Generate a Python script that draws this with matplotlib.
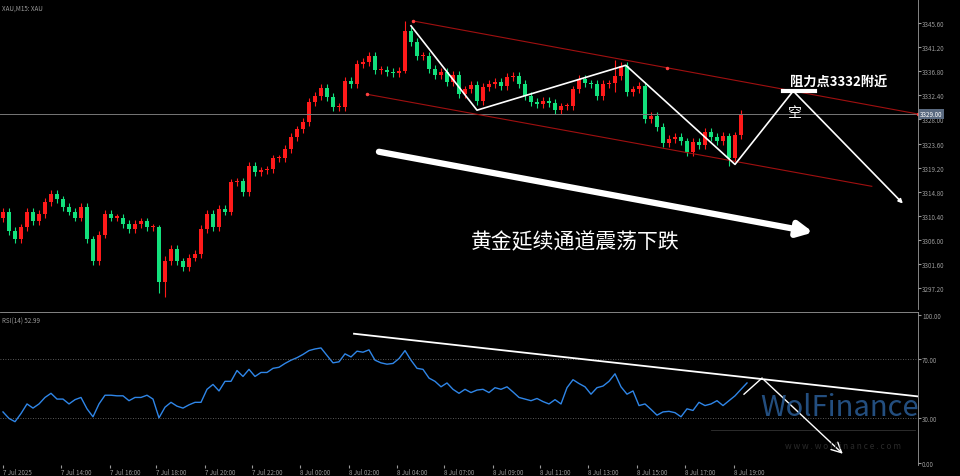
import matplotlib
matplotlib.use('Agg')
import matplotlib.pyplot as plt

plt.rcParams['font.family'] = ['Noto Sans CJK SC', 'DejaVu Sans']

# M15 closes (open = previous close)
first_open = 3310.0
closes = [
    3311.2, 3307.6, 3306.1, 3308.3, 3311.2, 3309.4, 3310.7, 3312.9, 3314.4, 3313.4,
    3312.0, 3311.2, 3310.1, 3312.0, 3306.1, 3302.1, 3307.0, 3310.7, 3310.1, 3310.1,
    3308.9, 3308.0, 3308.9, 3309.4, 3308.3, 3308.3, 3298.4, 3302.1, 3304.3, 3302.1,
    3301.0, 3302.8, 3303.4, 3308.0, 3310.7, 3308.3, 3311.6, 3311.2,
    3316.5, 3316.7, 3314.7, 3319.5, 3318.4, 3318.7, 3318.9, 3320.9, 3320.9, 3322.6,
    3324.8, 3326.2, 3327.5, 3331.2, 3332.3, 3333.7, 3332.1, 3330.3, 3330.3, 3335.0,
    3334.5, 3338.1, 3338.5, 3339.6, 3337.0, 3337.0, 3336.7, 3336.5, 3336.8, 3344.1,
    3342.1, 3339.6, 3339.6, 3337.2, 3336.1, 3336.7, 3334.8, 3336.1, 3332.6, 3333.5,
    3334.3, 3331.4,
    3333.9, 3334.5, 3334.8, 3334.1, 3335.7, 3335.9, 3334.5, 3332.3, 3331.2, 3330.8,
    3331.4, 3331.0, 3329.7, 3330.4, 3330.4, 3333.5, 3335.4, 3334.6, 3334.5, 3332.3,
    3334.5, 3334.6, 3335.9, 3337.8, 3333.0, 3333.5, 3334.1, 3328.1, 3328.6, 3326.6,
    3323.7, 3324.4, 3324.8, 3324.0, 3322.0, 3323.9, 3323.3, 3325.7, 3324.8, 3324.0,
    3325.0, 3320.9, 3325.1, 3329.0,
]
# notable wick extremes (bar index -> (high, low))
big_wicks = {26: (3308.8, 3296.4), 67: (3346.0, 3336.5), 102: (3338.9, 3333.0),
             121: (3325.5, 3319.6), 27: (3303.0, 3295.6)}

rsi = [
    34.4, 30.0, 27.8, 33.3, 39.8, 37.0, 39.8, 44.2, 47.0, 43.1, 43.1, 39.8, 42.7, 44.2,
    36.5, 31.1, 39.8, 45.7, 45.7, 45.3, 45.3, 42.0, 44.2, 44.2, 45.7, 43.1, 30.4, 37.6,
    40.9, 38.3, 37.0, 39.2, 40.9, 40.9, 49.7, 53.0, 48.6, 55.1, 55.1, 62.4, 58.4, 63.2,
    58.4, 61.1, 61.1, 63.9, 64.6, 67.2, 69.4, 71.1, 73.3, 75.9, 77.0, 77.7, 72.6, 67.6,
    68.3, 73.7, 71.6, 75.5, 74.8, 76.4, 69.4, 67.6, 66.7, 67.2, 70.5, 75.9, 69.4, 63.9,
    63.2, 57.3, 55.1, 51.4, 54.0, 49.7, 47.0, 49.7, 47.5, 49.2, 49.7, 47.5, 50.8, 49.7,
    51.4, 47.9, 44.2, 43.1, 42.0, 43.5, 41.4, 39.8, 42.7, 39.8, 50.8, 56.2, 53.6, 51.4,
    46.4, 50.8, 51.9, 55.1, 60.2, 51.4, 46.4, 48.6, 38.7, 39.8, 36.1, 32.2, 34.4, 34.8,
    33.9, 31.1, 36.5, 35.4, 40.9, 38.7, 39.8, 42.0, 38.7, 42.0, 45.3, 49.7, 54.0,
]

price_ticks = [3345.60, 3341.20, 3336.80, 3332.40, 3328.00, 3323.60, 3319.20,
               3314.80, 3310.40, 3306.00, 3301.60, 3297.20]
time_pos = [0, 9.7, 17.8, 25.5, 33.7, 41.5, 49.5, 57.7, 65.7, 73.5, 81.7, 89.5,
            97.5, 105.6, 113.7, 121.8]
time_labels = ['7 Jul 2025', '7 Jul 14:00', '7 Jul 16:00', '7 Jul 18:00', '7 Jul 20:00',
               '7 Jul 22:00', '8 Jul 00:00', '8 Jul 02:00', '8 Jul 04:00', '8 Jul 07:00',
               '8 Jul 09:00', '8 Jul 11:00', '8 Jul 13:00', '8 Jul 15:00', '8 Jul 17:00',
               '8 Jul 19:00']
last_price = 3329.0

BG = 'black'
GREY = '#9a9a9a'
UP = '#ff1a1a'
DOWN = '#12e07c'

fig = plt.figure(figsize=(9.6, 4.77), dpi=100, facecolor=BG)
ax = fig.add_axes([0, 1 - 310 / 477, 918 / 960, 310 / 477], facecolor=BG)
ax2 = fig.add_axes([0, 11 / 477, 918 / 960, 153 / 477], facecolor=BG)

# candles
opens = [first_open] + closes[:-1]
for i, (o, c) in enumerate(zip(opens, closes)):
    col = UP if c >= o else DOWN
    hi, lo = max(o, c) + 0.7, min(o, c) - 0.7
    if i in big_wicks:
        hi, lo = big_wicks[i]
    ax.vlines(i, lo, hi, color=col, lw=0.8)
    ax.bar(i, max(abs(c - o), 0.2), bottom=min(o, c), width=0.65, color=col)

ax.set_xlim(-0.5, 152.5)
ax.set_ylim(3293.4, 3350)
ax.axhline(last_price, color='#777777', lw=0.7)

# channel
ch = '#a01010'
ax.plot([68.3, 152.5], [3346.0, 3329.0], color=ch, lw=0.8)
ax.plot([60.7, 144.8], [3332.6, 3315.8], color=ch, lw=0.8)
ax.plot([68.3, 110.7, 152.5, 60.7], [3346.0, 3337.4, 3329.0, 3332.6], 'o', color='#ff4040', ms=1.5)

# zigzag projection
zx = [68, 79, 103.8, 122, 131.7]
zy = [3345.1, 3329.7, 3337.9, 3319.8, 3333.2]
ax.plot(zx, zy, color='white', lw=1.2)
ax.annotate('', xy=(150.3, 3312.3), xytext=(131.7, 3333.2),
            arrowprops=dict(arrowstyle='-|>', color='white', lw=1.2, mutation_scale=6))
ax.plot([130, 135.3], [3333.2, 3333.2], color='white', lw=3)
ax.annotate('', xy=(135.5, 3307.3), xytext=(62.2, 3322.2),
            arrowprops=dict(arrowstyle='-|>', color='white', lw=4.5, mutation_scale=22))

ax.text(95.3, 3305.8, '黄金延续通道震荡下跌', color='white', fontsize=15, ha='center', va='center')
ax.text(131.2, 3334.9, '阻力点3332附近', color='white', fontsize=9.5, ha='left', va='center',
        fontweight='bold')
ax.text(132, 3329.3, '空', color='white', fontsize=10, ha='center', va='center')
ax.text(0.002, 0.985, 'XAU,M15: XAU', transform=ax.transAxes, color=GREY, fontsize=4.5, va='top')

# right price axis
ax.yaxis.tick_right()
ax.set_yticks(price_ticks)
ax.set_yticklabels([f'{p:.2f}' for p in price_ticks], fontsize=4.5, color=GREY)
ax.tick_params(axis='y', length=2, color=GREY, pad=1)
ax.set_xticks([])
ax.text(1.002, last_price, f'{last_price:.2f}', transform=ax.get_yaxis_transform(),
        fontsize=4.5, color='white', va='center', ha='left',
        bbox=dict(boxstyle='square,pad=0.2', fc='#5a6a80', ec='none'))
for s in ['top', 'left', 'bottom']:
    ax.spines[s].set_visible(False)
ax.spines['right'].set_color(GREY)
ax.spines['right'].set_linewidth(0.6)

# RSI panel
ax2.plot(range(len(rsi)), rsi, color='#2f86e8', lw=1)
ax2.set_xlim(-0.5, 152.5)
ax2.set_ylim(-1.5, 102)
for lvl in (70, 30):
    ax2.axhline(lvl, color='#777777', lw=0.6, ls=(0, (1, 2)))
ax2.plot([58.5, 152.5], [87.3, 44.9], color='white', lw=1.3)
ax2.plot([123.5, 126.5], [46.4, 57.3], color='white', lw=1)
ax2.annotate('', xy=(140.3, 4.8), xytext=(126.5, 57.3),
             arrowprops=dict(arrowstyle='->', color='white', lw=1, mutation_scale=18))
ax2.text(139.5, 38, 'WolFinance', color='#2a5d96', fontsize=21, ha='center', va='center', alpha=0.85)
ax2.plot([118, 152], [22, 22], color='#333333', lw=0.6)
ax2.text(140, 12, 'w w w . w o l f i n a n c e . c o m', color='#2a2a2a', fontsize=6,
         ha='center', va='center')
ax2.text(0.002, 0.97, 'RSI(14) 52.99', transform=ax2.transAxes, color=GREY, fontsize=4.5, va='top')

ax2.yaxis.tick_right()
ax2.set_yticks([100, 70, 30, 0])
ax2.set_yticklabels(['100.00', '70.00', '30.00', '0.00'], fontsize=4.5, color=GREY)
ax2.tick_params(axis='y', length=2, color=GREY, pad=1)
ax2.set_xticks(time_pos)
ax2.set_xticklabels(time_labels, fontsize=4.5, color=GREY, ha='left')
ax2.tick_params(axis='x', length=2, color=GREY, pad=0.5)
for s in ['left', 'bottom']:
    ax2.spines[s].set_visible(False)
for s in ['top', 'right']:
    ax2.spines[s].set_color(GREY)
    ax2.spines[s].set_linewidth(0.6)

fig.savefig('out.png', dpi=100, facecolor=BG)
